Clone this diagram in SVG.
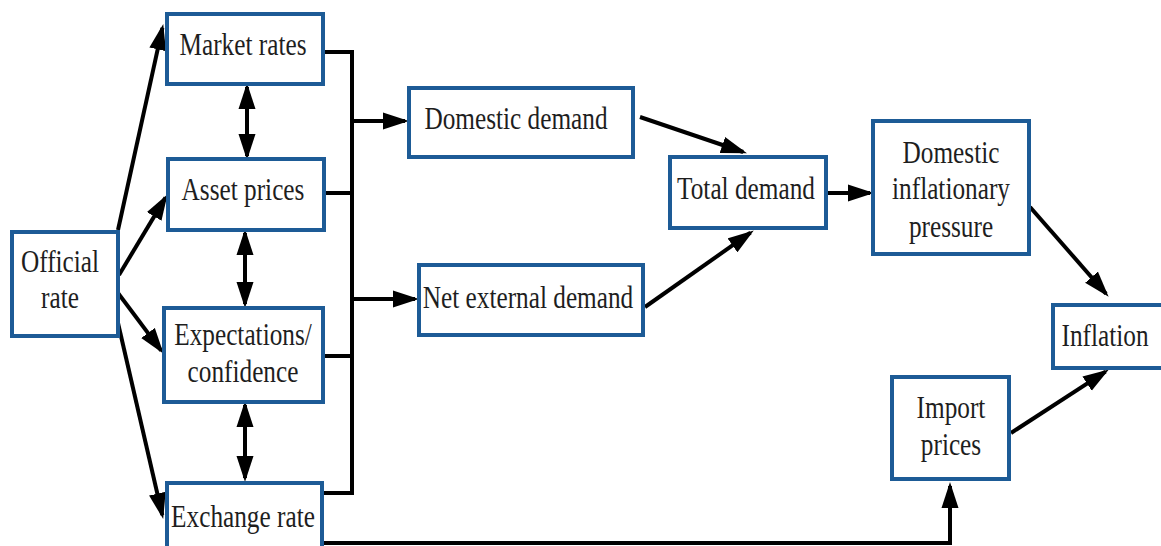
<svg xmlns="http://www.w3.org/2000/svg" width="1161" height="546" viewBox="0 0 1161 546">
  <defs>
    <style>
      .box { fill: #ffffff; stroke: #1d5b96; stroke-width: 4; }
      text { font-family: "Liberation Serif", "Times New Roman", Times, serif; font-size: 32px; fill: #1e1e1e; text-anchor: middle; }
      .wire { fill: none; stroke: #000000; stroke-width: 4; }
      .arrow { fill: none; stroke: #000000; stroke-width: 4; marker-end: url(#head); }
      .both { fill: none; stroke: #000000; stroke-width: 4; marker-start: url(#head); marker-end: url(#head); }
    </style>
    <marker id="head" markerUnits="userSpaceOnUse" markerWidth="28" markerHeight="18" refX="22" refY="8.5" orient="auto-start-reverse" viewBox="0 0 28 17">
      <path d="M0,0 L26,8.5 L0,17 z" fill="#000000"/>
    </marker>
  </defs>
  <rect width="1161" height="546" fill="#ffffff"/>

  <!-- connectors -->
  <g id="connectors">
    <!-- official rate fan-out -->
    <line class="arrow" x1="118" y1="230" x2="162.4" y2="27.9"/>
    <line class="arrow" x1="119" y1="275" x2="165.5" y2="197.6"/>
    <line class="arrow" x1="118" y1="293" x2="161.2" y2="350.6"/>
    <line class="arrow" x1="118" y1="323" x2="162.3" y2="515.1"/>
    <!-- two-way links between channels -->
    <line class="both" x1="247" y1="87" x2="247" y2="156"/>
    <line class="both" x1="245" y1="233" x2="245" y2="304"/>
    <line class="both" x1="245" y1="405" x2="245" y2="478"/>
    <!-- collector bus -->
    <polyline class="wire" points="323,52 352,52 352,493 322,493"/>
    <line class="wire" x1="324" y1="193" x2="352" y2="193"/>
    <line class="wire" x1="323" y1="356" x2="352" y2="356"/>
    <line class="arrow" x1="352" y1="121" x2="405" y2="121"/>
    <line class="arrow" x1="352" y1="299" x2="415" y2="299"/>
    <!-- demand to inflation -->
    <line class="arrow" x1="640" y1="117" x2="743.2" y2="152"/>
    <line class="arrow" x1="645" y1="307" x2="750.5" y2="232.7"/>
    <line class="arrow" x1="826" y1="193" x2="870" y2="193"/>
    <line class="arrow" x1="1030" y1="207" x2="1106" y2="293.7"/>
    <line class="arrow" x1="1011" y1="433" x2="1105.5" y2="371.6"/>
    <!-- exchange rate to import prices -->
    <polyline class="arrow" points="322,543 950,543 950,486"/>
  </g>

  <!-- labels are set in a narrowed serif: translate to the anchor, then squeeze horizontally -->
  <g id="official-rate">
    <rect class="box" x="12" y="232" width="106" height="104"/>
    <text transform="translate(60 272) scale(0.79 1)">Official</text>
    <text transform="translate(60 308) scale(0.79 1)">rate</text>
  </g>
  <g id="market-rates">
    <rect class="box" x="167" y="14" width="156" height="70"/>
    <text transform="translate(243 55) scale(0.79 1)">Market rates</text>
  </g>
  <g id="asset-prices">
    <rect class="box" x="168" y="159" width="156" height="71"/>
    <text transform="translate(243 200) scale(0.79 1)">Asset prices</text>
  </g>
  <g id="expectations">
    <rect class="box" x="164" y="308" width="159" height="94"/>
    <text transform="translate(243 345) scale(0.79 1)">Expectations/</text>
    <text transform="translate(243 382) scale(0.79 1)">confidence</text>
  </g>
  <g id="exchange-rate">
    <rect class="box" x="167" y="483" width="155" height="70"/>
    <text transform="translate(243 527) scale(0.79 1)">Exchange rate</text>
  </g>
  <g id="domestic-demand">
    <rect class="box" x="409" y="88" width="224" height="69"/>
    <text transform="translate(516 129) scale(0.79 1)">Domestic demand</text>
  </g>
  <g id="net-external-demand">
    <rect class="box" x="419" y="265" width="224" height="70"/>
    <text transform="translate(528 308) scale(0.79 1)">Net external demand</text>
  </g>
  <g id="total-demand">
    <rect class="box" x="670" y="157" width="156" height="71"/>
    <text transform="translate(746 199) scale(0.79 1)">Total demand</text>
  </g>
  <g id="domestic-inflationary-pressure">
    <rect class="box" x="873" y="121" width="156" height="133"/>
    <text transform="translate(951 163) scale(0.79 1)">Domestic</text>
    <text transform="translate(951 199) scale(0.79 1)">inflationary</text>
    <text transform="translate(951 237) scale(0.79 1)">pressure</text>
  </g>
  <g id="inflation">
    <rect class="box" x="1053" y="305" width="115" height="63"/>
    <text transform="translate(1105 346) scale(0.79 1)">Inflation</text>
  </g>
  <g id="import-prices">
    <rect class="box" x="892" y="377" width="117" height="102"/>
    <text transform="translate(951 418) scale(0.79 1)">Import</text>
    <text transform="translate(951 455) scale(0.79 1)">prices</text>
  </g>
</svg>
